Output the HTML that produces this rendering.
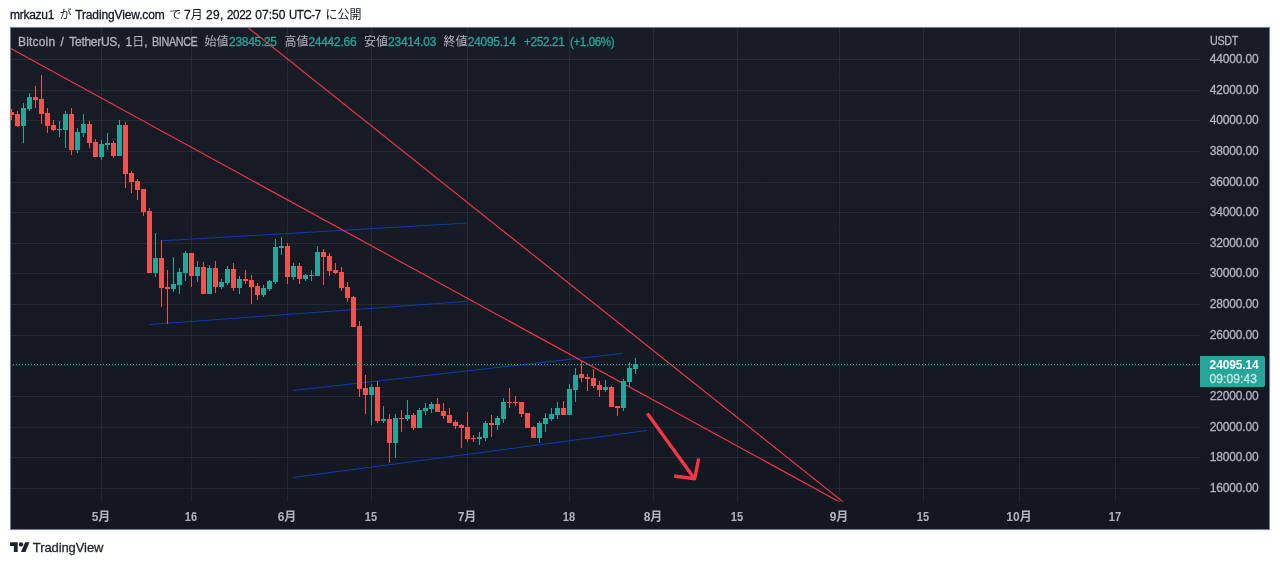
<!DOCTYPE html>
<html lang="ja"><head><meta charset="utf-8"><title>BTCUSDT chart by mrkazu1 — TradingView</title>
<style>
html,body{margin:0;padding:0;background:#fff}
body{width:1280px;height:565px;position:relative;overflow:hidden;font-family:"Liberation Sans","Noto Sans CJK JP",sans-serif}
.t{position:absolute;white-space:nowrap;line-height:1;margin:0;padding:0;-webkit-text-stroke:0.3px currentColor}
.ns{-webkit-text-stroke:0}
#chart{position:absolute;left:10px;top:27px;width:1258px;height:501px;border:1px solid #7d808c;box-shadow:0 0 0 1px #f0f3fa;background:linear-gradient(180deg,#181c27 0%,#131722 100%)}
#chart svg{position:absolute;left:-1px;top:-1px}
#plabel{position:absolute;left:1200px;top:356px;width:65px;height:31px;background:#26a69a;border-radius:0 2px 2px 0}
</style></head><body>
<div id="chart"><svg width="1260" height="503" viewBox="10 27 1260 503"><defs><clipPath id="pane"><rect x="11" y="28" width="1188.5" height="473.5"/></clipPath><clipPath id="pane2"><rect x="10" y="28" width="1189.5" height="473.5"/></clipPath></defs>
<g class="grid" shape-rendering="crispEdges" fill="rgba(240,243,250,0.07)">
<rect x="11" y="59" width="1188.5" height="1"/>
<rect x="11" y="90" width="1188.5" height="1"/>
<rect x="11" y="120" width="1188.5" height="1"/>
<rect x="11" y="151" width="1188.5" height="1"/>
<rect x="11" y="182" width="1188.5" height="1"/>
<rect x="11" y="212" width="1188.5" height="1"/>
<rect x="11" y="243" width="1188.5" height="1"/>
<rect x="11" y="273" width="1188.5" height="1"/>
<rect x="11" y="304" width="1188.5" height="1"/>
<rect x="11" y="335" width="1188.5" height="1"/>
<rect x="11" y="365" width="1188.5" height="1"/>
<rect x="11" y="396" width="1188.5" height="1"/>
<rect x="11" y="427" width="1188.5" height="1"/>
<rect x="11" y="457" width="1188.5" height="1"/>
<rect x="11" y="488" width="1188.5" height="1"/>
<rect x="101" y="28" width="1" height="473.5"/>
<rect x="191" y="28" width="1" height="473.5"/>
<rect x="287" y="28" width="1" height="473.5"/>
<rect x="371" y="28" width="1" height="473.5"/>
<rect x="467" y="28" width="1" height="473.5"/>
<rect x="569" y="28" width="1" height="473.5"/>
<rect x="653" y="28" width="1" height="473.5"/>
<rect x="737" y="28" width="1" height="473.5"/>
<rect x="839" y="28" width="1" height="473.5"/>
<rect x="923" y="28" width="1" height="473.5"/>
<rect x="1019" y="28" width="1" height="473.5"/>
<rect x="1115" y="28" width="1" height="473.5"/>
</g>
<g class="drawings" clip-path="url(#pane)" fill="none" stroke-linecap="butt">
<line x1="161.5" y1="240.8" x2="467.1" y2="223.1" stroke="#0f3dac" stroke-width="1"/>
<line x1="149" y1="324.5" x2="467.1" y2="301.4" stroke="#0f3dac" stroke-width="1"/>
<line x1="292.9" y1="390.55" x2="623" y2="353.4" stroke="#0f3dac" stroke-width="1"/>
<line x1="292.9" y1="477.5" x2="647.1" y2="430.5" stroke="#0f3dac" stroke-width="1"/>
<line x1="10.8" y1="48.4" x2="844" y2="504.4" stroke="#f23645" stroke-width="1.15"/>
<line x1="240" y1="21.2" x2="844" y2="502.6" stroke="#f23645" stroke-width="1.15"/>
<g stroke="#f23645" stroke-width="3.4" stroke-linecap="butt" stroke-linejoin="round"><line x1="647.4" y1="413.6" x2="694" y2="478"/><polyline points="674.1,476 694.7,478.7 698.7,458.5"/></g>
</g>
<g class="candles" clip-path="url(#pane2)" shape-rendering="crispEdges">
<g fill="#ef5350"><rect x="11" y="109" width="1" height="11"/><rect x="9" y="112" width="5" height="3"/></g>
<g fill="#ef5350"><rect x="17" y="111" width="1" height="16"/><rect x="15" y="114" width="5" height="12"/></g>
<g fill="#26a69a"><rect x="23" y="103" width="1" height="40"/><rect x="21" y="108" width="5" height="18"/></g>
<g fill="#26a69a"><rect x="29" y="93" width="1" height="18"/><rect x="27" y="97" width="5" height="12"/></g>
<g fill="#ef5350"><rect x="35" y="86" width="1" height="22"/><rect x="33" y="97" width="5" height="3"/></g>
<g fill="#ef5350"><rect x="41" y="75" width="1" height="49"/><rect x="39" y="99" width="5" height="15"/></g>
<g fill="#ef5350"><rect x="47" y="108" width="1" height="25"/><rect x="45" y="113" width="5" height="13"/></g>
<g fill="#ef5350"><rect x="53" y="120" width="1" height="11"/><rect x="51" y="125" width="5" height="5"/></g>
<g fill="#26a69a"><rect x="59" y="121" width="1" height="16"/><rect x="57" y="129" width="5" height="1"/></g>
<g fill="#26a69a"><rect x="65" y="111" width="1" height="37"/><rect x="63" y="114" width="5" height="16"/></g>
<g fill="#ef5350"><rect x="71" y="108" width="1" height="47"/><rect x="69" y="114" width="5" height="36"/></g>
<g fill="#26a69a"><rect x="77" y="128" width="1" height="25"/><rect x="75" y="132" width="5" height="18"/></g>
<g fill="#26a69a"><rect x="83" y="114" width="1" height="23"/><rect x="81" y="124" width="5" height="9"/></g>
<g fill="#ef5350"><rect x="89" y="121" width="1" height="27"/><rect x="87" y="124" width="5" height="19"/></g>
<g fill="#ef5350"><rect x="95" y="139" width="1" height="18"/><rect x="93" y="142" width="5" height="15"/></g>
<g fill="#26a69a"><rect x="101" y="140" width="1" height="20"/><rect x="99" y="144" width="5" height="13"/></g>
<g fill="#26a69a"><rect x="107" y="133" width="1" height="17"/><rect x="105" y="143" width="5" height="2"/></g>
<g fill="#ef5350"><rect x="113" y="141" width="1" height="17"/><rect x="111" y="143" width="5" height="13"/></g>
<g fill="#26a69a"><rect x="119" y="120" width="1" height="36"/><rect x="117" y="125" width="5" height="31"/></g>
<g fill="#ef5350"><rect x="125" y="122" width="1" height="66"/><rect x="123" y="125" width="5" height="49"/></g>
<g fill="#ef5350"><rect x="131" y="171" width="1" height="22"/><rect x="129" y="173" width="5" height="9"/></g>
<g fill="#ef5350"><rect x="137" y="179" width="1" height="21"/><rect x="135" y="181" width="5" height="9"/></g>
<g fill="#ef5350"><rect x="143" y="189" width="1" height="27"/><rect x="141" y="189" width="5" height="23"/></g>
<g fill="#ef5350"><rect x="149" y="208" width="1" height="65"/><rect x="147" y="211" width="5" height="62"/></g>
<g fill="#26a69a"><rect x="155" y="233" width="1" height="44"/><rect x="153" y="258" width="5" height="15"/></g>
<g fill="#ef5350"><rect x="161" y="240" width="1" height="67"/><rect x="159" y="258" width="5" height="30"/></g>
<g fill="#ef5350"><rect x="167" y="270" width="1" height="54"/><rect x="165" y="287" width="5" height="2"/></g>
<g fill="#26a69a"><rect x="173" y="257" width="1" height="35"/><rect x="171" y="284" width="5" height="5"/></g>
<g fill="#26a69a"><rect x="179" y="268" width="1" height="26"/><rect x="177" y="272" width="5" height="13"/></g>
<g fill="#26a69a"><rect x="185" y="251" width="1" height="30"/><rect x="183" y="253" width="5" height="20"/></g>
<g fill="#ef5350"><rect x="191" y="253" width="1" height="34"/><rect x="189" y="253" width="5" height="23"/></g>
<g fill="#26a69a"><rect x="197" y="261" width="1" height="21"/><rect x="195" y="267" width="5" height="9"/></g>
<g fill="#ef5350"><rect x="203" y="262" width="1" height="32"/><rect x="201" y="267" width="5" height="27"/></g>
<g fill="#26a69a"><rect x="209" y="265" width="1" height="29"/><rect x="207" y="268" width="5" height="26"/></g>
<g fill="#ef5350"><rect x="215" y="261" width="1" height="32"/><rect x="213" y="268" width="5" height="19"/></g>
<g fill="#26a69a"><rect x="221" y="279" width="1" height="10"/><rect x="219" y="282" width="5" height="5"/></g>
<g fill="#26a69a"><rect x="227" y="266" width="1" height="19"/><rect x="225" y="269" width="5" height="14"/></g>
<g fill="#ef5350"><rect x="233" y="263" width="1" height="28"/><rect x="231" y="269" width="5" height="19"/></g>
<g fill="#26a69a"><rect x="239" y="276" width="1" height="18"/><rect x="237" y="279" width="5" height="9"/></g>
<g fill="#ef5350"><rect x="245" y="270" width="1" height="14"/><rect x="243" y="279" width="5" height="2"/></g>
<g fill="#ef5350"><rect x="251" y="275" width="1" height="29"/><rect x="249" y="280" width="5" height="7"/></g>
<g fill="#ef5350"><rect x="257" y="283" width="1" height="17"/><rect x="255" y="286" width="5" height="9"/></g>
<g fill="#26a69a"><rect x="263" y="285" width="1" height="12"/><rect x="261" y="288" width="5" height="7"/></g>
<g fill="#26a69a"><rect x="269" y="280" width="1" height="11"/><rect x="267" y="281" width="5" height="8"/></g>
<g fill="#26a69a"><rect x="275" y="239" width="1" height="45"/><rect x="273" y="247" width="5" height="35"/></g>
<g fill="#26a69a"><rect x="281" y="237" width="1" height="18"/><rect x="279" y="246" width="5" height="2"/></g>
<g fill="#ef5350"><rect x="287" y="243" width="1" height="41"/><rect x="285" y="246" width="5" height="31"/></g>
<g fill="#26a69a"><rect x="293" y="263" width="1" height="17"/><rect x="291" y="266" width="5" height="11"/></g>
<g fill="#ef5350"><rect x="299" y="263" width="1" height="21"/><rect x="297" y="266" width="5" height="13"/></g>
<g fill="#26a69a"><rect x="305" y="274" width="1" height="7"/><rect x="303" y="275" width="5" height="4"/></g>
<g fill="#26a69a"><rect x="311" y="270" width="1" height="11"/><rect x="309" y="275" width="5" height="1"/></g>
<g fill="#26a69a"><rect x="317" y="246" width="1" height="30"/><rect x="315" y="252" width="5" height="24"/></g>
<g fill="#ef5350"><rect x="323" y="249" width="1" height="36"/><rect x="321" y="252" width="5" height="5"/></g>
<g fill="#ef5350"><rect x="329" y="253" width="1" height="23"/><rect x="327" y="256" width="5" height="15"/></g>
<g fill="#ef5350"><rect x="335" y="263" width="1" height="11"/><rect x="333" y="270" width="5" height="3"/></g>
<g fill="#ef5350"><rect x="341" y="267" width="1" height="24"/><rect x="339" y="272" width="5" height="16"/></g>
<g fill="#ef5350"><rect x="347" y="282" width="1" height="20"/><rect x="345" y="287" width="5" height="11"/></g>
<g fill="#ef5350"><rect x="353" y="296" width="1" height="31"/><rect x="351" y="297" width="5" height="30"/></g>
<g fill="#ef5350"><rect x="359" y="321" width="1" height="76"/><rect x="357" y="326" width="5" height="63"/></g>
<g fill="#ef5350"><rect x="365" y="375" width="1" height="39"/><rect x="363" y="388" width="5" height="7"/></g>
<g fill="#26a69a"><rect x="371" y="384" width="1" height="41"/><rect x="369" y="387" width="5" height="8"/></g>
<g fill="#ef5350"><rect x="377" y="381" width="1" height="42"/><rect x="375" y="387" width="5" height="34"/></g>
<g fill="#26a69a"><rect x="383" y="406" width="1" height="17"/><rect x="381" y="419" width="5" height="2"/></g>
<g fill="#ef5350"><rect x="389" y="414" width="1" height="49"/><rect x="387" y="419" width="5" height="24"/></g>
<g fill="#26a69a"><rect x="395" y="414" width="1" height="44"/><rect x="393" y="418" width="5" height="25"/></g>
<g fill="#ef5350"><rect x="401" y="410" width="1" height="22"/><rect x="399" y="418" width="5" height="1"/></g>
<g fill="#26a69a"><rect x="407" y="400" width="1" height="21"/><rect x="405" y="415" width="5" height="4"/></g>
<g fill="#ef5350"><rect x="413" y="413" width="1" height="17"/><rect x="411" y="415" width="5" height="13"/></g>
<g fill="#26a69a"><rect x="419" y="408" width="1" height="20"/><rect x="417" y="410" width="5" height="18"/></g>
<g fill="#26a69a"><rect x="425" y="403" width="1" height="12"/><rect x="423" y="408" width="5" height="3"/></g>
<g fill="#26a69a"><rect x="431" y="402" width="1" height="11"/><rect x="429" y="404" width="5" height="5"/></g>
<g fill="#ef5350"><rect x="437" y="398" width="1" height="14"/><rect x="435" y="404" width="5" height="8"/></g>
<g fill="#ef5350"><rect x="443" y="403" width="1" height="16"/><rect x="441" y="411" width="5" height="5"/></g>
<g fill="#ef5350"><rect x="449" y="408" width="1" height="15"/><rect x="447" y="415" width="5" height="8"/></g>
<g fill="#ef5350"><rect x="455" y="420" width="1" height="9"/><rect x="453" y="422" width="5" height="4"/></g>
<g fill="#ef5350"><rect x="461" y="424" width="1" height="24"/><rect x="459" y="425" width="5" height="3"/></g>
<g fill="#ef5350"><rect x="467" y="412" width="1" height="30"/><rect x="465" y="427" width="5" height="12"/></g>
<g fill="#ef5350"><rect x="473" y="435" width="1" height="7"/><rect x="471" y="438" width="5" height="1"/></g>
<g fill="#26a69a"><rect x="479" y="432" width="1" height="13"/><rect x="477" y="437" width="5" height="2"/></g>
<g fill="#26a69a"><rect x="485" y="421" width="1" height="20"/><rect x="483" y="423" width="5" height="15"/></g>
<g fill="#ef5350"><rect x="491" y="415" width="1" height="22"/><rect x="489" y="423" width="5" height="2"/></g>
<g fill="#26a69a"><rect x="497" y="416" width="1" height="14"/><rect x="495" y="418" width="5" height="7"/></g>
<g fill="#26a69a"><rect x="503" y="398" width="1" height="25"/><rect x="501" y="402" width="5" height="17"/></g>
<g fill="#ef5350"><rect x="509" y="388" width="1" height="20"/><rect x="507" y="402" width="5" height="1"/></g>
<g fill="#ef5350"><rect x="515" y="396" width="1" height="10"/><rect x="513" y="402" width="5" height="1"/></g>
<g fill="#ef5350"><rect x="521" y="402" width="1" height="15"/><rect x="519" y="402" width="5" height="12"/></g>
<g fill="#ef5350"><rect x="527" y="413" width="1" height="15"/><rect x="525" y="413" width="5" height="15"/></g>
<g fill="#ef5350"><rect x="533" y="426" width="1" height="12"/><rect x="531" y="427" width="5" height="11"/></g>
<g fill="#26a69a"><rect x="539" y="421" width="1" height="22"/><rect x="537" y="423" width="5" height="15"/></g>
<g fill="#26a69a"><rect x="545" y="413" width="1" height="19"/><rect x="543" y="418" width="5" height="6"/></g>
<g fill="#26a69a"><rect x="551" y="408" width="1" height="13"/><rect x="549" y="414" width="5" height="5"/></g>
<g fill="#26a69a"><rect x="557" y="402" width="1" height="17"/><rect x="555" y="408" width="5" height="7"/></g>
<g fill="#ef5350"><rect x="563" y="401" width="1" height="14"/><rect x="561" y="408" width="5" height="7"/></g>
<g fill="#26a69a"><rect x="569" y="384" width="1" height="31"/><rect x="567" y="389" width="5" height="26"/></g>
<g fill="#26a69a"><rect x="575" y="368" width="1" height="34"/><rect x="573" y="375" width="5" height="15"/></g>
<g fill="#ef5350"><rect x="581" y="361" width="1" height="21"/><rect x="579" y="374" width="5" height="4"/></g>
<g fill="#ef5350"><rect x="587" y="374" width="1" height="17"/><rect x="585" y="377" width="5" height="2"/></g>
<g fill="#ef5350"><rect x="593" y="369" width="1" height="19"/><rect x="591" y="378" width="5" height="8"/></g>
<g fill="#ef5350"><rect x="599" y="381" width="1" height="16"/><rect x="597" y="385" width="5" height="5"/></g>
<g fill="#26a69a"><rect x="605" y="380" width="1" height="12"/><rect x="603" y="387" width="5" height="3"/></g>
<g fill="#ef5350"><rect x="611" y="386" width="1" height="21"/><rect x="609" y="387" width="5" height="20"/></g>
<g fill="#ef5350"><rect x="617" y="406" width="1" height="10"/><rect x="615" y="406" width="5" height="2"/></g>
<g fill="#26a69a"><rect x="623" y="379" width="1" height="32"/><rect x="621" y="381" width="5" height="27"/></g>
<g fill="#26a69a"><rect x="629" y="362" width="1" height="25"/><rect x="627" y="368" width="5" height="14"/></g>
<g fill="#26a69a"><rect x="635" y="358" width="1" height="16"/><rect x="633" y="364" width="5" height="5"/></g>
</g>
<line x1="11" y1="364.5" x2="1199.5" y2="364.5" stroke="#26a69a" stroke-width="1" stroke-dasharray="1 2" stroke-dashoffset="1" shape-rendering="crispEdges"/>
</svg></div>
<div id="plabel"></div>
<div id="header">
<div class="t" id="h0" style="font-size:12px;color:#131722;top:8.64px;left:10.10px;letter-spacing:-0.286px;">mrkazu1</div>
<div class="t ns" id="h1" style="font-size:12px;color:#131722;top:8.64px;left:59.50px;">が</div>
<div class="t" id="h2" style="font-size:12px;color:#131722;top:8.64px;left:75.20px;letter-spacing:-0.128px;">TradingView.com</div>
<div class="t ns" id="h3" style="font-size:12px;color:#131722;top:8.64px;left:169.30px;">で</div>
<div class="t" id="h4" style="font-size:12px;color:#131722;top:8.64px;left:184.00px;">7<span class="ns">月</span></div>
<div class="t" id="h5" style="font-size:12px;color:#131722;top:8.64px;left:205.90px;letter-spacing:0.406px;">29,</div>
<div class="t" id="h6" style="font-size:12px;color:#131722;top:8.64px;left:227.10px;transform:scaleX(0.9724);transform-origin:0 0;letter-spacing:-0.400px;">2022</div>
<div class="t" id="h7" style="font-size:12px;color:#131722;top:8.64px;left:255.30px;letter-spacing:0.017px;">07:50</div>
<div class="t" id="h8" style="font-size:12px;color:#131722;top:8.64px;left:289.10px;transform:scaleX(0.9513);transform-origin:0 0;letter-spacing:-0.400px;">UTC-7</div>
<div class="t ns" id="h9" style="font-size:12px;color:#131722;top:8.64px;left:325.50px;">に公開</div>
</div>
<div id="legend">
<div class="t" id="lt0" style="font-size:12px;color:#b2b5be;top:35.54px;left:18.00px;letter-spacing:0.186px;">Bitcoin</div>
<div class="t" id="lt1" style="font-size:12px;color:#b2b5be;top:35.54px;left:60.60px;">/</div>
<div class="t" id="lt2" style="font-size:12px;color:#b2b5be;top:35.54px;left:69.35px;letter-spacing:-0.289px;">TetherUS,</div>
<div class="t" id="lt3" style="font-size:12px;color:#b2b5be;top:35.54px;left:125.50px;">1<span class="ns">日</span>,</div>
<div class="t" id="lt4" style="font-size:12px;color:#b2b5be;top:35.54px;left:151.50px;transform:scaleX(0.8990);transform-origin:0 0;letter-spacing:-0.400px;">BINANCE</div>
<div class="t ns" id="lg1" style="font-size:12px;color:#b2b5be;top:35.54px;left:204.60px;">始値</div>
<div class="t" id="lg2" style="font-size:12px;color:#26a69a;top:35.54px;left:229.00px;letter-spacing:-0.295px;">23845.25</div>
<div class="t ns" id="lg3" style="font-size:12px;color:#b2b5be;top:35.54px;left:284.60px;">高値</div>
<div class="t" id="lg4" style="font-size:12px;color:#26a69a;top:35.54px;left:308.40px;letter-spacing:-0.266px;">24442.66</div>
<div class="t ns" id="lg5" style="font-size:12px;color:#b2b5be;top:35.54px;left:363.90px;">安値</div>
<div class="t" id="lg6" style="font-size:12px;color:#26a69a;top:35.54px;left:388.00px;letter-spacing:-0.223px;">23414.03</div>
<div class="t ns" id="lg7" style="font-size:12px;color:#b2b5be;top:35.54px;left:443.40px;">終値</div>
<div class="t" id="lg8" style="font-size:12px;color:#26a69a;top:35.54px;left:467.80px;letter-spacing:-0.280px;">24095.14</div>
<div class="t" id="lg9" style="font-size:12px;color:#26a69a;top:35.54px;left:523.70px;transform:scaleX(0.9874);transform-origin:0 0;letter-spacing:-0.400px;">+252.21</div>
<div class="t" id="lg10" style="font-size:12px;color:#26a69a;top:35.54px;left:569.80px;transform:scaleX(0.9647);transform-origin:0 0;letter-spacing:-0.400px;">(+1.06%)</div>
</div>
<div id="price-axis">
<div class="t" id="usdt" style="font-size:12px;color:#b2b5be;top:34.84px;left:1209.70px;transform:scaleX(0.8960);transform-origin:0 0;letter-spacing:-0.400px;">USDT</div>
<div class="t" id="p0" style="font-size:12px;color:#b2b5be;top:53.04px;left:1209.70px;letter-spacing:-0.137px;">44000.00</div>
<div class="t" id="p1" style="font-size:12px;color:#b2b5be;top:83.68px;left:1209.70px;letter-spacing:-0.137px;">42000.00</div>
<div class="t" id="p2" style="font-size:12px;color:#b2b5be;top:114.31px;left:1209.70px;letter-spacing:-0.137px;">40000.00</div>
<div class="t" id="p3" style="font-size:12px;color:#b2b5be;top:144.95px;left:1209.70px;letter-spacing:-0.137px;">38000.00</div>
<div class="t" id="p4" style="font-size:12px;color:#b2b5be;top:175.59px;left:1209.70px;letter-spacing:-0.137px;">36000.00</div>
<div class="t" id="p5" style="font-size:12px;color:#b2b5be;top:206.22px;left:1209.70px;letter-spacing:-0.137px;">34000.00</div>
<div class="t" id="p6" style="font-size:12px;color:#b2b5be;top:236.86px;left:1209.70px;letter-spacing:-0.137px;">32000.00</div>
<div class="t" id="p7" style="font-size:12px;color:#b2b5be;top:267.49px;left:1209.70px;letter-spacing:-0.137px;">30000.00</div>
<div class="t" id="p8" style="font-size:12px;color:#b2b5be;top:298.13px;left:1209.70px;letter-spacing:-0.137px;">28000.00</div>
<div class="t" id="p9" style="font-size:12px;color:#b2b5be;top:328.77px;left:1209.70px;letter-spacing:-0.137px;">26000.00</div>
<div class="t" id="p11" style="font-size:12px;color:#b2b5be;top:390.04px;left:1209.70px;letter-spacing:-0.137px;">22000.00</div>
<div class="t" id="p12" style="font-size:12px;color:#b2b5be;top:420.67px;left:1209.70px;letter-spacing:-0.137px;">20000.00</div>
<div class="t" id="p13" style="font-size:12px;color:#b2b5be;top:451.31px;left:1209.70px;letter-spacing:-0.137px;">18000.00</div>
<div class="t" id="p14" style="font-size:12px;color:#b2b5be;top:481.95px;left:1209.70px;letter-spacing:-0.137px;">16000.00</div>
</div>
<div id="price-label-text">
<div class="t ns" id="pl1" style="font-size:12px;color:#ffffff;top:358.84px;font-weight:700;left:1209.60px;letter-spacing:-0.123px;">24095.14</div>
<div class="t" id="pl2" style="font-size:12px;color:#c6e7e4;top:372.54px;left:1209.60px;letter-spacing:0.083px;">09:09:43</div>
</div>
<div id="time-axis">
<div class="t ns" id="t0" style="font-size:12px;color:#b2b5be;top:510.84px;font-weight:700;left:101.00px;transform:translateX(-50%);">5月</div>
<div class="t ns" id="t1" style="font-size:12px;color:#b2b5be;top:510.84px;font-weight:700;left:191.00px;transform:translateX(-50%) scaleX(0.92);">16</div>
<div class="t ns" id="t2" style="font-size:12px;color:#b2b5be;top:510.84px;font-weight:700;left:287.00px;transform:translateX(-50%);">6月</div>
<div class="t ns" id="t3" style="font-size:12px;color:#b2b5be;top:510.84px;font-weight:700;left:371.00px;transform:translateX(-50%) scaleX(0.92);">15</div>
<div class="t ns" id="t4" style="font-size:12px;color:#b2b5be;top:510.84px;font-weight:700;left:467.00px;transform:translateX(-50%);">7月</div>
<div class="t ns" id="t5" style="font-size:12px;color:#b2b5be;top:510.84px;font-weight:700;left:569.00px;transform:translateX(-50%) scaleX(0.92);">18</div>
<div class="t ns" id="t6" style="font-size:12px;color:#b2b5be;top:510.84px;font-weight:700;left:653.00px;transform:translateX(-50%);">8月</div>
<div class="t ns" id="t7" style="font-size:12px;color:#b2b5be;top:510.84px;font-weight:700;left:737.00px;transform:translateX(-50%) scaleX(0.92);">15</div>
<div class="t ns" id="t8" style="font-size:12px;color:#b2b5be;top:510.84px;font-weight:700;left:839.00px;transform:translateX(-50%);">9月</div>
<div class="t ns" id="t9" style="font-size:12px;color:#b2b5be;top:510.84px;font-weight:700;left:923.00px;transform:translateX(-50%) scaleX(0.92);">15</div>
<div class="t ns" id="t10" style="font-size:12px;color:#b2b5be;top:510.84px;font-weight:700;left:1019.00px;transform:translateX(-50%);">10月</div>
<div class="t ns" id="t11" style="font-size:12px;color:#b2b5be;top:510.84px;font-weight:700;left:1115.00px;transform:translateX(-50%) scaleX(0.92);">17</div>
</div>
<div id="footer">
<div class="t" id="ftr" style="font-size:13px;color:#1e222d;top:540.70px;left:32.77px;letter-spacing:-0.088px;">TradingView</div>
</div>
<svg id="logo" style="position:absolute;left:10px;top:539.8px" width="19.8" height="15.4" viewBox="0 0 36 28"><path fill="#1e222d" d="M14 22H7V11H0V4h14v18zM28 22h-8l7.5-18h8L28 22z"/><circle fill="#1e222d" cx="20" cy="8" r="4"/></svg>
</body></html>
